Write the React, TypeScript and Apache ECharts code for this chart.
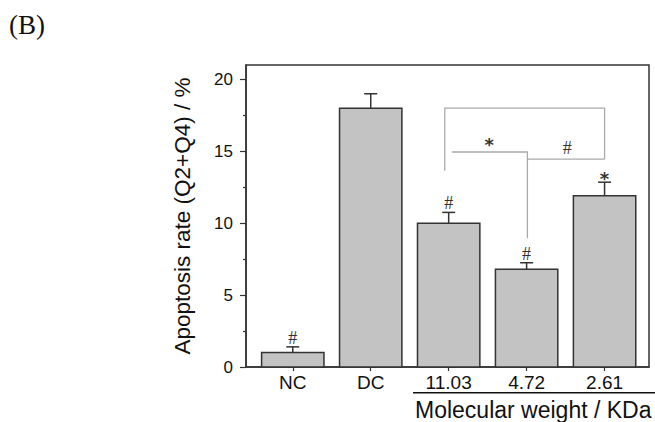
import React, { useEffect, useRef } from "react";
import * as echarts from "echarts";

const categories = ["NC", "DC", "11.03", "4.72", "2.61"];
const values = [1.0, 18.0, 10.0, 6.8, 11.9];
const errors = [0.4, 1.0, 0.75, 0.45, 0.95];
const marks = ["#", "", "#", "#", "*"];
const yTicks = [0, 5, 10, 15, 20];
const xTicks = [0, 1, 2, 3, 4];
// significance brackets, in data coordinates [category position, value]
const brackets = [
  [[1.95, 13.65], [1.95, 18.0], [4.0, 18.0], [4.0, 14.45]],
  [[2.04, 14.95], [3.01, 14.95], [3.01, 8.95]],
  [[3.01, 14.45], [4.0, 14.45]],
];
const bracketText = ["*", "#"];
const bracketTextPos = [[2.52, 15.45], [3.52, 15.25]];

const SANS = "'Liberation Sans', Arial, Helvetica, sans-serif";
const SERIF = "'Liberation Serif', 'Times New Roman', serif";

export default function App() {
  const ref = useRef<HTMLDivElement>(null);
  useEffect(() => {
    if (!ref.current) return;
    const chart = echarts.init(ref.current, null, { renderer: "svg" });
    const markFont = (t: string) =>
      t === "*"
        ? { fontFamily: "DejaVu Sans", fontSize: 18, fontWeight: "bold" as const }
        : { fontFamily: SERIF, fontSize: 18 };
    chart.setOption({
      animation: false,
      backgroundColor: "#fff",
      grid: {
        left: 246,
        top: 65,
        width: 403,
        height: 302,
        show: true,
        borderColor: "#333",
        borderWidth: 1.5,
        backgroundColor: "transparent",
      },
      xAxis: {
        type: "value",
        min: -0.6,
        max: 4.57,
        splitLine: { show: false },
        axisLine: { show: true, onZero: false, lineStyle: { color: "#333", width: 1.5 } },
        axisTick: {
          show: true,
          inside: false,
          length: 4,
          customValues: xTicks,
          lineStyle: { color: "#333", width: 1.2 },
        },
        axisLabel: {
          customValues: xTicks,
          formatter: (v: number) => categories[Math.round(v)] ?? "",
          color: "#111",
          fontFamily: SANS,
          fontSize: 19,
          margin: 6,
        },
      },
      yAxis: {
        type: "value",
        min: 0,
        max: 21,
        interval: 5,
        name: "Apoptosis rate (Q2+Q4) / %",
        nameLocation: "middle",
        nameGap: 52,
        nameTextStyle: { fontFamily: SANS, fontSize: 22.5, color: "#111" },
        splitLine: { show: false },
        axisLine: { show: true, onZero: false, lineStyle: { color: "#333", width: 1.5 } },
        axisTick: {
          show: true,
          inside: false,
          length: 6,
          customValues: yTicks,
          lineStyle: { color: "#333", width: 1.2 },
        },
        minorTick: { show: true, splitNumber: 2, length: 3, lineStyle: { color: "#333", width: 1.2 } },
        axisLabel: {
          customValues: yTicks,
          color: "#111",
          fontFamily: SANS,
          fontSize: 17,
          margin: 13,
        },
      },
      series: [
        {
          type: "custom",
          data: values.map((v, i) => [i, v, errors[i]]),
          renderItem: (params: any, api: any) => {
            const i = api.value(0);
            const v = api.value(1);
            const e = api.value(2);
            const tl = api.coord([i - 0.4, v]);
            const br = api.coord([i + 0.4, 0]);
            const top = api.coord([i, v + e]);
            const t = marks[params.dataIndex];
            const children: any[] = [
              {
                type: "line",
                shape: { x1: top[0], y1: tl[1], x2: top[0], y2: top[1] },
                style: { stroke: "#333", lineWidth: 1.5 },
              },
              {
                type: "line",
                shape: { x1: top[0] - 6.5, y1: top[1], x2: top[0] + 6.5, y2: top[1] },
                style: { stroke: "#333", lineWidth: 1.5 },
              },
              {
                type: "rect",
                shape: { x: tl[0], y: tl[1], width: br[0] - tl[0], height: br[1] - tl[1] },
                style: { fill: "#c3c3c3", stroke: "#333", lineWidth: 1.5 },
              },
            ];
            if (t) {
              children.push({
                type: "text",
                x: top[0],
                y: top[1] - (t === "*" ? 4 : 9),
                style: {
                  text: t,
                  align: "center",
                  verticalAlign: "middle",
                  fill: "#333",
                  ...markFont(t),
                },
              });
            }
            return { type: "group", children };
          },
          z: 2,
        },
        {
          type: "custom",
          data: brackets.map((_, i) => [i]),
          renderItem: (params: any, api: any) => {
            const pts = brackets[params.dataIndex].map((p) => api.coord(p));
            return {
              type: "polyline",
              shape: { points: pts },
              style: { stroke: "#aaa", lineWidth: 1.3, fill: null },
            };
          },
          encode: { x: -1, y: -1 },
          z: 3,
        },
        {
          type: "custom",
          data: bracketText.map((_, i) => [i]),
          renderItem: (params: any, api: any) => {
            const t = bracketText[params.dataIndex];
            const p = api.coord(bracketTextPos[params.dataIndex]);
            return {
              type: "text",
              x: p[0],
              y: p[1],
              style: {
                text: t,
                align: "center",
                verticalAlign: "middle",
                fill: "#333",
                ...markFont(t),
              },
            };
          },
          encode: { x: -1, y: -1 },
          z: 3,
        },
      ],
      graphic: [
        {
          type: "text",
          left: 9,
          top: 11,
          style: { text: "(B)", fontFamily: SERIF, fontSize: 27, fill: "#111" },
        },
        {
          type: "line",
          shape: { x1: 413, y1: 392.7, x2: 655, y2: 392.7 },
          style: { stroke: "#111", lineWidth: 1.5 },
        },
        {
          type: "text",
          x: 415,
          y: 410,
          style: {
            text: "Molecular weight / KDa",
            fontFamily: SANS,
            fontSize: 23,
            fill: "#111",
            verticalAlign: "middle",
          },
        },
      ],
    });
    return () => chart.dispose();
  }, []);
  return (
    <div
      ref={ref}
      style={{ position: "absolute", left: 0, top: 0, width: 655, height: 422, background: "#fff" }}
    />
  );
}
